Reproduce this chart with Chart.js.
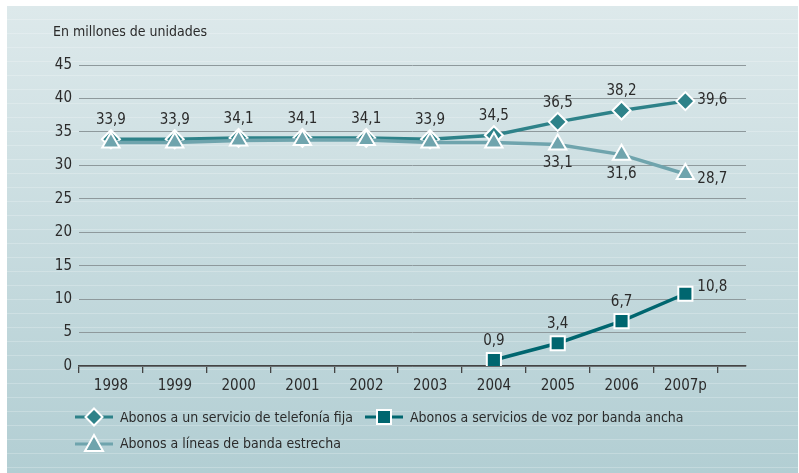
<!DOCTYPE html>
<html>
<head>
<meta charset="utf-8">
<script src="https://cdn.jsdelivr.net/npm/chart.js@4.4.1/dist/chart.umd.min.js"></script>
<style>
  html, body { margin: 0; padding: 0; background: #fff; }
  #wrap {
    position: relative; width: 799px; height: 473px; overflow: hidden;
    font-family: "DejaVu Sans Condensed", "Liberation Sans Narrow", sans-serif; color: #2b2b2b;
  }
  #panel {
    position: absolute; left: 7px; top: 6px; right: 1px; bottom: 0;
    background:
      repeating-linear-gradient(to bottom, rgba(255,255,255,0) 0px, rgba(255,255,255,0) 13px, rgba(255,255,255,0.22) 13px, rgba(255,255,255,0.22) 14px),
      linear-gradient(to bottom, #dde9eb, #b2ced3);
  }
  #chart { position: absolute; left: 0; top: 0; }
  .unit { position: absolute; left: 53px; top: 23px; font-size: 14px; }
  .leg { position: absolute; font-size: 14px; display: flex; align-items: center; height: 20px; white-space: nowrap; }
  .leg svg { margin-right: 7px; }
</style>
</head>
<body>
<div id="wrap">
  <div id="panel"></div>
  <canvas id="chart" width="799" height="473"></canvas>
  <div class="unit">En millones de unidades</div>
  <div class="leg" style="left:75px; top:407px;">
    <svg width="38" height="20"><line x1="0" y1="10" x2="38" y2="10" stroke="#2e8289" stroke-width="3"/><polygon points="19,1.5 27.5,10 19,18.5 10.5,10" fill="#2e8289" stroke="#fff" stroke-width="2"/></svg>
    Abonos a un servicio de telefonía fija
  </div>
  <div class="leg" style="left:365px; top:407px;">
    <svg width="38" height="20"><line x1="0" y1="10" x2="38" y2="10" stroke="#00666f" stroke-width="3"/><rect x="12" y="3" width="14" height="14" fill="#00666f" stroke="#fff" stroke-width="2"/></svg>
    Abonos a servicios de voz por banda ancha
  </div>
  <div class="leg" style="left:75px; top:433px;">
    <svg width="38" height="20"><line x1="0" y1="11" x2="38" y2="11" stroke="#6fa4ad" stroke-width="3"/><polygon points="19,2 28,18 10,18" fill="#6fa4ad" stroke="#fff" stroke-width="2"/></svg>
    Abonos a líneas de banda estrecha
  </div>
</div>
<script>
const years = ["1998", "1999", "2000", "2001", "2002", "2003", "2004", "2005", "2006", "2007p"];
const telefoniaFija = [33.9, 33.9, 34.1, 34.1, 34.1, 33.9, 34.5, 36.5, 38.2, 39.6];
const bandaEstrecha = [33.4, 33.4, 33.7, 33.8, 33.8, 33.4, 33.4, 33.1, 31.6, 28.7];
const vozBandaAncha = [null, null, null, null, null, null, 0.9, 3.4, 6.7, 10.8];
const estrechaLabelled = [false, false, false, false, false, false, false, true, true, true];
const yTicks = [0, 5, 10, 15, 20, 25, 30, 35, 40, 45];

const FONT = { family: '"DejaVu Sans Condensed", "Liberation Sans Narrow", sans-serif', size: 15 };

function points(values) {
    return values.map((v, i) => ({ x: i, y: v }));
}

function fmt(v) {
    return v.toFixed(1).replace(".", ",");
}

// last point of each series gets its label on the right
function labelAt(i, n, below) {
    if (i === n - 1) return { dx: 12, dy: below ? 5 : -1, align: "left" };
    return { dx: 0, dy: below ? 19 : -19, align: "center" };
}

const valueLabels = {
    id: "valueLabels",
    afterDatasetsDraw(chart) {
        const ctx = chart.ctx;
        ctx.save();
        ctx.font = `${FONT.size}px ${FONT.family}`;
        ctx.fillStyle = "#2b2b2b";
        ctx.textBaseline = "middle";
        chart.data.datasets.forEach((ds, di) => {
            const meta = chart.getDatasetMeta(di);
            const n = ds.data.length;
            meta.data.forEach((pt, i) => {
                const v = ds.data[i].y;
                if (v == null) return;
                if (ds.showLabel && !ds.showLabel[i]) return;
                let pos = labelAt(i, n, ds.labelBelow);
                if (ds.lastLabelUp && i === n - 1) pos = { dx: 12, dy: -7, align: "left" };
                ctx.textAlign = pos.align;
                ctx.fillText(fmt(v), pt.x + pos.dx, pt.y + pos.dy);
            });
        });
        ctx.restore();
    }
};

new Chart(document.getElementById("chart"), {
    type: "line",
    data: {
        datasets: [
            {
                label: "Abonos a un servicio de telefonía fija",
                data: points(telefoniaFija),
                borderColor: "#2e8289",
                backgroundColor: "#2e8289",
                borderWidth: 3.5,
                pointStyle: "rectRot",
                pointRadius: 9,
                pointBorderColor: "#fff",
                pointBorderWidth: 2,
                order: 2,
            },
            {
                label: "Abonos a servicios de voz por banda ancha",
                data: points(vozBandaAncha),
                borderColor: "#00666f",
                backgroundColor: "#00666f",
                borderWidth: 3.5,
                pointStyle: "rect",
                pointRadius: 10,
                pointBorderColor: "#fff",
                pointBorderWidth: 2,
                lastLabelUp: true,
                order: 3,
            },
            {
                label: "Abonos a líneas de banda estrecha",
                data: points(bandaEstrecha),
                borderColor: "#6fa4ad",
                backgroundColor: "#6fa4ad",
                borderWidth: 3.5,
                pointStyle: "triangle",
                pointRadius: 10,
                pointBorderColor: "#fff",
                pointBorderWidth: 2,
                labelBelow: true,
                showLabel: estrechaLabelled,
                order: 1,
            },
        ]
    },
    options: {
        responsive: false,
        animation: false,
        layout: { padding: { top: 65, right: 53, bottom: 60, left: 0 } },
        plugins: { legend: { display: false }, tooltip: { enabled: false } },
        scales: {
            x: {
                type: "linear",
                min: -0.5,
                max: 9.95,
                afterBuildTicks: (scale) => {
                    scale.ticks = years.concat([""]).map((_, i) => ({ value: i - 0.5 }));
                },
                afterFit: (scale) => { scale.height = 47; },
                grid: { drawOnChartArea: false, tickLength: 7, color: "#444", lineWidth: 1.3 },
                border: { display: true, color: "#444", width: 1.5 },
                ticks: {
                    autoSkip: false,
                    maxRotation: 0,
                    labelOffset: 32,
                    padding: 4,
                    color: "#2b2b2b",
                    font: FONT,
                    callback: (val) => years[Math.round(val + 0.5)] ?? "",
                },
            },
            y: {
                min: 0,
                max: 45,
                afterBuildTicks: (scale) => {
                    scale.ticks = yTicks.map(v => ({ value: v }));
                },
                afterFit: (scale) => { scale.width = 79; },
                grid: { drawTicks: false, color: "#8e999c", lineWidth: 1 },
                border: { display: false },
                ticks: { padding: 7, color: "#2b2b2b", font: FONT },
            },
        },
    },
    plugins: [valueLabels],
});
</script>
</body>
</html>
